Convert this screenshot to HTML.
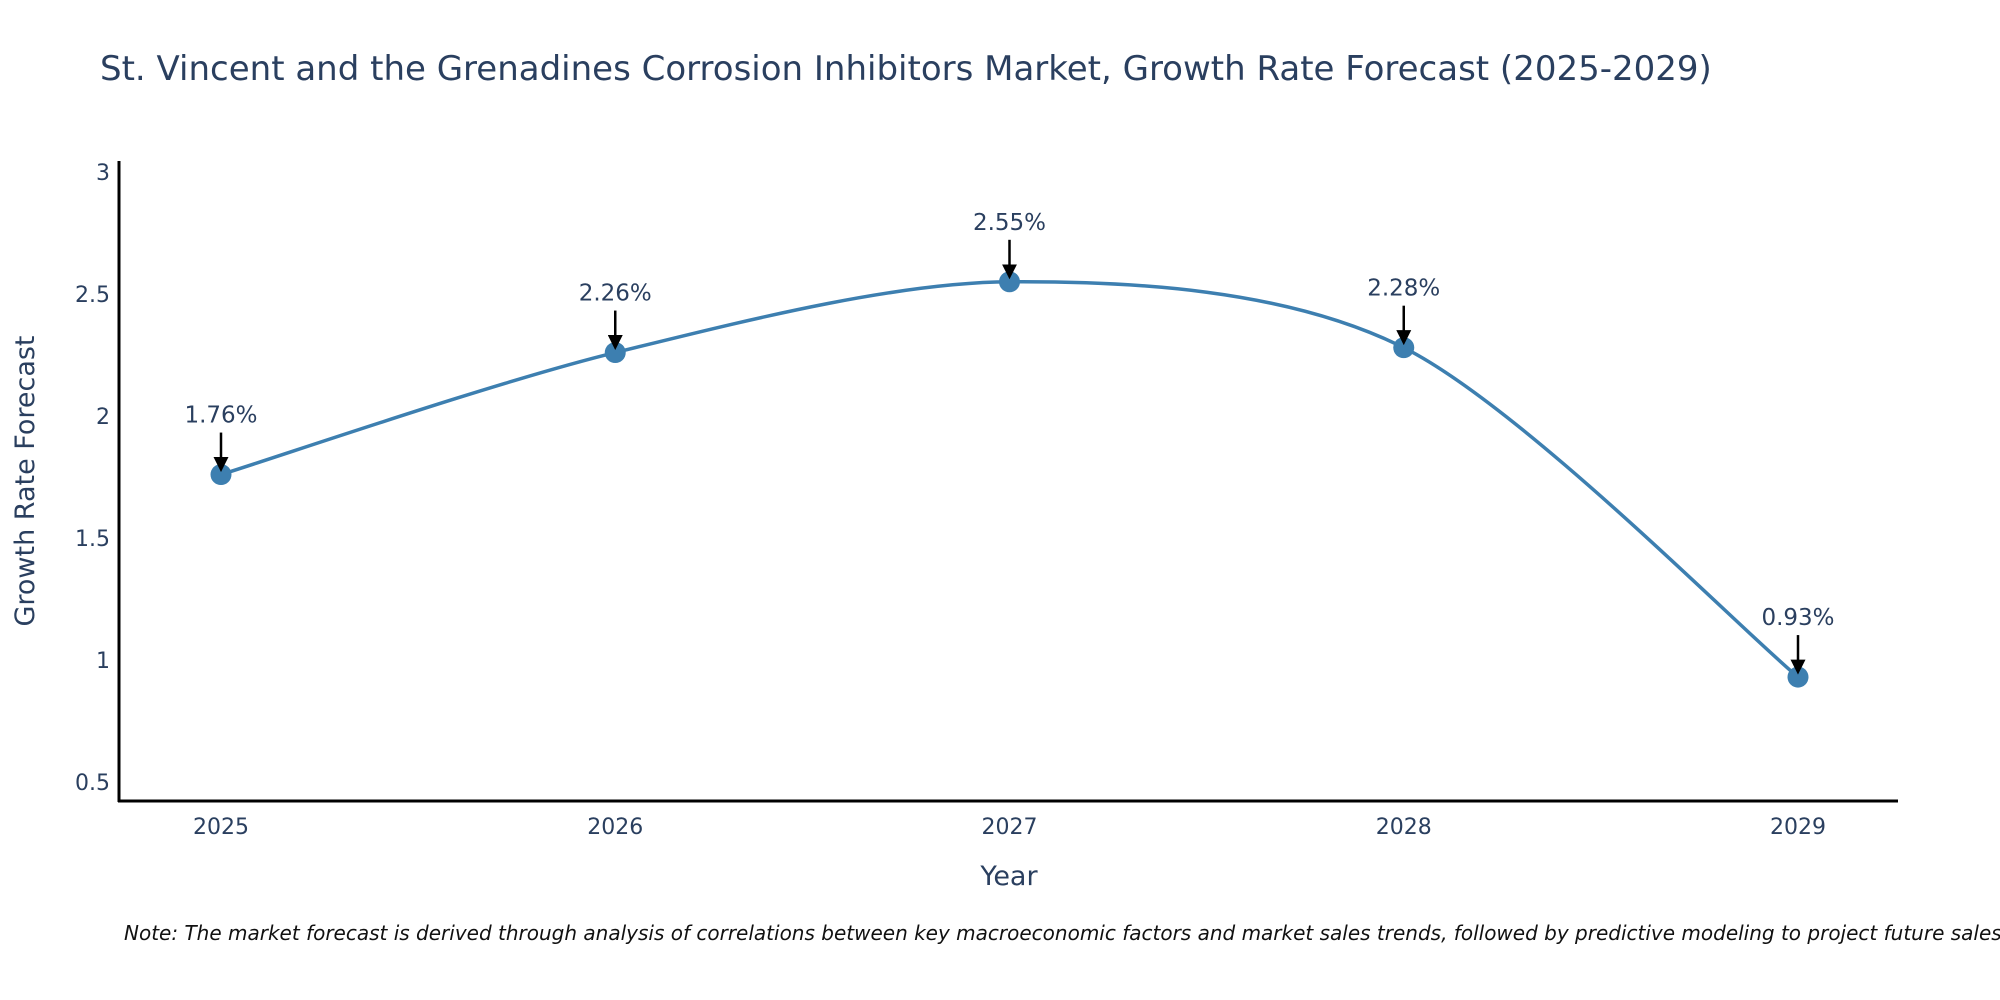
<!DOCTYPE html>
<html><head><meta charset="utf-8"><style>
body{margin:0;background:#fff;overflow:hidden;}
svg{display:block;font-family:"DejaVu Sans","Liberation Sans",sans-serif;}
</style></head><body>
<svg id="chart" width="2000" height="1000" viewBox="0 0 2000 1000">
<text x="100" y="80" font-size="34" fill="#2a3f5f">St. Vincent and the Grenadines Corrosion Inhibitors Market, Growth Rate Forecast (2025-2029)</text>
<g id="yticks"></g>
<g id="xticks"></g>
<line x1="119" y1="161" x2="119" y2="802" stroke="#000" stroke-width="3"/>
<line x1="118" y1="801" x2="1898" y2="801" stroke="#000" stroke-width="3"/>
<text transform="translate(34,481) rotate(-90)" text-anchor="middle" font-size="27" fill="#2a3f5f">Growth Rate Forecast</text>
<text x="1009" y="885" text-anchor="middle" font-size="27" fill="#2a3f5f">Year</text>
<g id="series"></g>
<g id="annots"></g>
<text x="124" y="940" font-size="20" font-style="italic" fill="#111">Note: The market forecast is derived through analysis of correlations between key macroeconomic factors and market sales trends, followed by predictive modeling to project future sales.</text>
<defs><marker id="ah" markerWidth="6" markerHeight="6" refX="3" refY="3" orient="auto"><path d="M0,0 L6,3 L0,6 z" fill="#000"/></marker></defs>
</svg>
<script>
const years = [2025, 2026, 2027, 2028, 2029];
const growth = [1.76, 2.26, 2.55, 2.28, 0.93];
const labels = ["1.76%", "2.26%", "2.55%", "2.28%", "0.93%"];
const yTicks = [0.5, 1, 1.5, 2, 2.5, 3];
const ns = "http://www.w3.org/2000/svg";
const xs = v => 221 + (v - 2025) * (1798 - 221) / 4;
const ys = v => 782 - (v - 0.5) * (782 - 172) / 2.5;
function mk(tag, attrs, parent, text){const e=document.createElementNS(ns,tag);for(const k in attrs)e.setAttribute(k,attrs[k]);if(text!==undefined)e.textContent=text;document.getElementById(parent).appendChild(e);return e;}
yTicks.forEach(t=>{
  const e=mk("text",{x:110,y:ys(t)+8,"text-anchor":"end","font-size":22,fill:"#2a3f5f"},"yticks",String(t));
  
  
});
years.forEach(y=>{
  const e=mk("text",{x:xs(y),y:834,"text-anchor":"middle","font-size":22,fill:"#2a3f5f"},"xticks",String(y));
  
  
});
const pts = years.map((y,i)=>[xs(y), ys(growth[i])]);
let d = "M"+pts[0][0]+","+pts[0][1];
const s = 0.15;
for(let i=0;i<pts.length-1;i++){
  const p0=pts[Math.max(0,i-1)], p1=pts[i], p2=pts[i+1], p3=pts[Math.min(pts.length-1,i+2)];
  const c1=[p1[0]+(p2[0]-p0[0])*s, p1[1]+(p2[1]-p0[1])*s];
  const c2=[p2[0]-(p3[0]-p1[0])*s, p2[1]-(p3[1]-p1[1])*s];
  d+=" C"+c1[0]+","+c1[1]+" "+c2[0]+","+c2[1]+" "+p2[0]+","+p2[1];
}
const line = mk("path",{d:d,fill:"none",stroke:"#3d7fb0","stroke-width":3.5},"series");


pts.forEach(p=>{
  const c=mk("circle",{cx:p[0],cy:p[1],r:10.5,fill:"#3d7fb0"},"series");
  
  
});
pts.forEach((p,i)=>{
  const a=mk("line",{x1:p[0],y1:p[1]-42,x2:p[0],y2:p[1]-10,stroke:"#000","stroke-width":2.5,"marker-end":"url(#ah)"},"annots");
  
  
  const t=mk("text",{x:p[0],y:p[1]-52,"text-anchor":"middle","font-size":23,fill:"#2a3f5f"},"annots",labels[i]);
  
  
});
</script>
</body></html>
